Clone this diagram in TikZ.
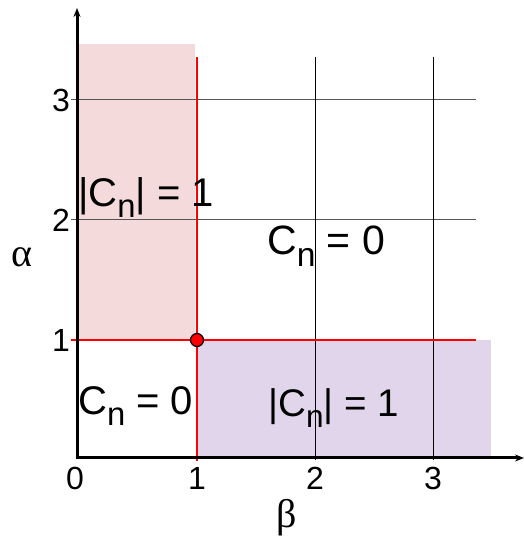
\documentclass[tikz,border=0pt]{standalone}
\usepackage{fontspec}
\usepackage{graphicx}
\setmainfont{Liberation Sans}
\newfontfamily\grk{Liberation Serif}
\usetikzlibrary{arrows.meta}
\definecolor{pinkfill}{HTML}{F4DADA}
\definecolor{purplefill}{HTML}{E1D5EB}
\definecolor{gridgray}{HTML}{555555}
\newcommand\Csub{C\raisebox{-0.27em}{\scalebox{0.82}{n}}}
\tikzset{
  gridline/.style={line width=1pt, draw=gridgray},
  vgridline/.style={line width=1pt, draw=black},
  redline/.style={line width=2.2pt, draw=red},
  axisline/.style={line width=3pt, draw=black, -{Stealth[length=9pt,width=7pt]}},
  tick/.style={font=\fontsize{32}{32}\selectfont, inner sep=0pt},
  lbl/.style={inner sep=0pt, anchor=base west},
  greeklbl/.style={inner sep=0pt, anchor=base, font=\grk\fontsize{40}{40}\selectfont}
}
\begin{document}
\begin{tikzpicture}[x=1pt,y=1pt]
\useasboundingbox (0,0) rectangle (524,539);
% filled regions
\fill[pinkfill] (77,199) rectangle (195,495);
\fill[purplefill] (197,82) rectangle (491,199);
% grid
\draw[gridline] (71,439) -- (476,439);
\draw[gridline] (71,319) -- (476,319);
\draw[vgridline] (315,482) -- (315,79);
\draw[vgridline] (433,482) -- (433,79);
% red boundaries
\draw[redline] (197,482) -- (197,78);
\draw[redline] (71,199) -- (476,199);
% axes
\coordinate (o) at (77,81);
\coordinate (ytip) at (77,531);
\coordinate (xtip) at (524,81);
\draw[axisline] (77,79.5) -- (ytip);
\draw[axisline] (75.5,81) -- (xtip);
% critical point
\node[circle, fill=red, draw=black, line width=1.2pt, minimum size=13pt, inner sep=0pt] (pt) at (197,199) {};
% tick labels
\node[tick] (y3) at (61,439) {3};
\node[tick] (y2) at (61,319) {2};
\node[tick] (y1) at (61,199) {1};
\node[tick] (x0) at (75,61) {0};
\node[tick] (x1) at (197,61) {1};
\node[tick] (x2) at (315,61) {2};
\node[tick] (x3) at (433,61) {3};
% axis names
\node[greeklbl] (alpha) at (22,272) {α};
\node[greeklbl] (beta) at (287,11) {β};
% region labels
\node[lbl, font=\fontsize{40}{40}\selectfont] (tl) at (78,332) {|\Csub| = 1};
\node[lbl, font=\fontsize{41}{41}\selectfont] (tr) at (267,284) {\Csub\ = 0};
\node[lbl, font=\fontsize{40}{40}\selectfont] (bl) at (78,124) {\Csub\ = 0};
\node[lbl, font=\fontsize{38.5}{38.5}\selectfont] (br) at (268,122) {|\Csub| = 1};
\end{tikzpicture}
\end{document}
